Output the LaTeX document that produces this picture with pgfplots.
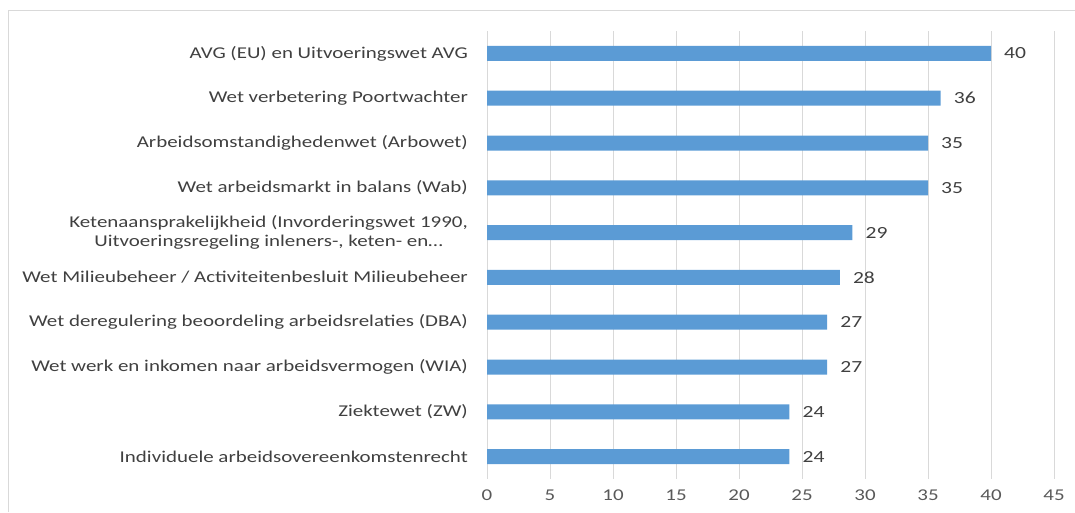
\documentclass[border=0pt]{standalone}
\usepackage{pgfplots}
\pgfplotsset{compat=1.18}
\usepackage{fontspec}
\setmainfont{Carlito}[FakeStretch=1.27]
\definecolor{barblue}{HTML}{5B9BD5}
\definecolor{lbl}{HTML}{404040}
\definecolor{tck}{HTML}{595959}
\definecolor{grd}{HTML}{D9D9D9}
\pgfkeys{/pgf/number format/assume math mode=true}
\begin{document}
\begin{tikzpicture}[x=1pt,y=1pt]
\path[use as bounding box] (0,0) rectangle (1075,512);
\draw[grd, line width=1pt] (8,0) -- (8,501) -- (1075,501);
\begin{axis}[
  at={(487pt,33pt)}, anchor=south west,
  scale only axis, width=567pt, height=448pt,
  xbar, bar width=15pt,
  xmin=0, xmax=45, xtick={0,5,10,15,20,25,30,35,40,45},
  ymin=-0.5, ymax=9.5, y dir=reverse,
  ytick={0,1,2,3,4,5,6,7,8,9},
  yticklabels={
    AVG (EU) en Uitvoeringswet AVG,
    Wet verbetering Poortwachter,
    Arbeidsomstandighedenwet (Arbowet),
    Wet arbeidsmarkt in balans (Wab),
    {Ketenaansprakelijkheid (Invorderingswet 1990,\\Uitvoeringsregeling inleners-, keten- en…},
    Wet Milieubeheer / Activiteitenbesluit Milieubeheer,
    Wet deregulering beoordeling arbeidsrelaties (DBA),
    Wet werk en inkomen naar arbeidsvermogen (WIA),
    Ziektewet (ZW),
    Individuele arbeidsovereenkomstenrecht},
  yticklabel style={font=\fontsize{16.5}{19}\selectfont, color=lbl, align=center, anchor=east, inner sep=0pt, xshift=-19pt},
  xticklabel style={font=\fontsize{16.5}{19}\selectfont, color=tck, anchor=north, inner sep=0pt, yshift=-11pt},
  major tick length=0pt,
  axis line style={draw=none},
  xmajorgrids, major grid style={grd, line width=1pt},
  nodes near coords,
  every node near coord/.append style={font=\fontsize{17}{19}\selectfont, color=lbl, anchor=west, inner sep=0pt, xshift=13pt},
]
\addplot[fill=barblue, draw=none] coordinates {
(40,0) (36,1) (35,2) (35,3) (29,4) (28,5) (27,6) (27,7) (24,8) (24,9)};
\end{axis}
\end{tikzpicture}
\end{document}
